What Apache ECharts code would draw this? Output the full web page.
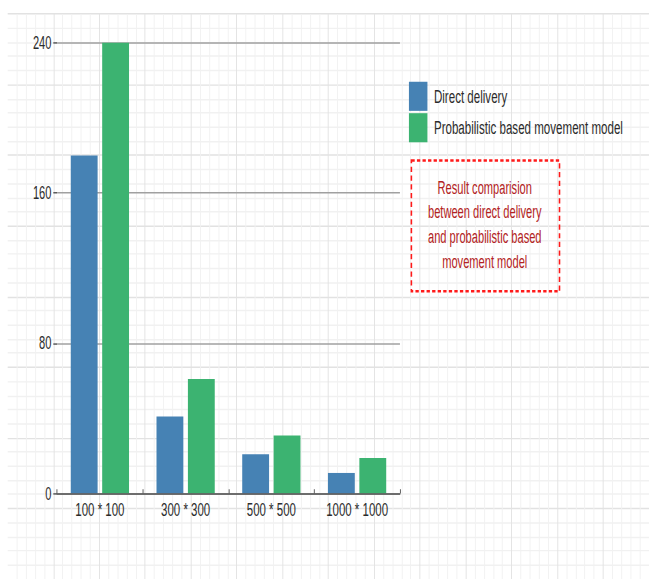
<!DOCTYPE html>
<html>
<head>
<meta charset="utf-8">
<script src="https://cdn.jsdelivr.net/npm/echarts@6/dist/echarts.min.js"></script>
<style>
  html { margin: 0; padding: 0; width: 649px; height: 579px; overflow: hidden; background: #ffffff; }
  body { margin: 0; padding: 0; width: 649px; height: 579px; background: #ffffff; }
  /* The drawing is laid out on a 701x398 board and stretched onto the 649x579 page */
  #board {
    width: 701px;
    height: 398px;
    transform: scale(0.9258, 1.4548);
    transform-origin: 0 0;
  }
</style>
</head>
<body>
<div id="board"></div>
<script>
// Chart data
const categories = ['100 * 100', '300 * 300', '500 * 500', '1000 * 1000'];
const seriesNames = ['Direct delivery', 'Probabilistic based movement model'];
const directDelivery = [180, 41, 21, 11];
const probabilisticModel = [240, 61, 31, 19];
const yMin = 0;
const yMax = 240;
const yStep = 80;
const noteLines = [
  'Result comparision',
  'between direct delivery',
  'and probabilistic based',
  'movement model'
];

const FONT = '"Liberation Sans", Arial, sans-serif';
const chart = echarts.init(document.getElementById('board'), null, { renderer: 'svg' });

chart.setOption({
  backgroundColor: '#ffffff',
  animation: false,
  textStyle: { fontFamily: FONT },
  grid: [
    // main plot
    { left: 61.6, right: 269, top: 29.4, bottom: 58.7 },
    // graph-paper backdrop
    { left: 8.3, top: 9.6, width: 700, height: 400 }
  ],
  xAxis: [
    {
      type: 'category',
      gridIndex: 0,
      data: categories,
      z: 5,
      axisLine: { show: true, lineStyle: { color: '#555555', width: 1 } },
      axisTick: { show: true, inside: true, length: 3, lineStyle: { color: '#555555' } },
      axisLabel: { color: '#2b2b2b', fontSize: 12.4, margin: 5, fontFamily: FONT },
      splitLine: { show: false }
    },
    {
      type: 'value',
      gridIndex: 1,
      min: 0, max: 700, interval: 50,
      silent: true,
      z: -5,
      axisLine: { show: false }, axisTick: { show: false }, axisLabel: { show: false },
      splitLine: { show: true, showMinLine: false, lineStyle: { color: '#e2e2e2', width: 1 } },
      minorTick: { show: false, splitNumber: 5 },
      minorSplitLine: { show: true, lineStyle: { color: '#f1f1f1', width: 1 } }
    }
  ],
  yAxis: [
    {
      type: 'value',
      gridIndex: 0,
      min: yMin, max: yMax, interval: yStep,
      z: 1,
      axisLine: { show: false },
      axisTick: { show: true, length: 4, lineStyle: { color: '#555555' } },
      axisLabel: { color: '#2b2b2b', fontSize: 12, margin: 6, fontFamily: FONT },
      splitLine: { show: true, lineStyle: { color: '#a0a0a0', width: 1 } }
    },
    {
      type: 'value',
      gridIndex: 1,
      inverse: true,
      min: 0, max: 400, interval: 50,
      silent: true,
      z: -5,
      axisLine: { show: false }, axisTick: { show: false }, axisLabel: { show: false },
      splitLine: { show: true, lineStyle: { color: '#e2e2e2', width: 1 } },
      minorTick: { show: false, splitNumber: 5 },
      minorSplitLine: { show: true, lineStyle: { color: '#f1f1f1', width: 1 } }
    }
  ],
  legend: {
    orient: 'vertical',
    left: 441.7,
    top: 56.2,
    padding: 0,
    itemWidth: 20,
    itemHeight: 20,
    itemGap: 1.6,
    icon: 'rect',
    selectedMode: false,
    data: seriesNames,
    textStyle: { color: '#2b2b2b', fontSize: 12.5, fontFamily: FONT, padding: [0, 0, 0, 2] }
  },
  series: [
    {
      name: seriesNames[0],
      type: 'bar',
      xAxisIndex: 0, yAxisIndex: 0,
      data: directDelivery,
      barWidth: 29,
      barGap: '17%',
      z: 3,
      itemStyle: { color: '#4682b4' }
    },
    {
      name: seriesNames[1],
      type: 'bar',
      xAxisIndex: 0, yAxisIndex: 0,
      data: probabilisticModel,
      barWidth: 29,
      barGap: '17%',
      z: 3,
      itemStyle: { color: '#3cb371' }
    },
    {
      // carries the backdrop grid axes
      type: 'line',
      xAxisIndex: 1, yAxisIndex: 1,
      data: [],
      silent: true
    }
  ],
  graphic: [
    {
      type: 'rect',
      left: 443.5,
      top: 109.4,
      z: 10,
      shape: { width: 160, height: 90 },
      style: { fill: 'rgba(255,255,255,0)', stroke: '#ff1a1a', lineWidth: 1.7, lineDash: [3.6, 2.4] },
      silent: true
    },
    {
      type: 'text',
      x: 523.6,
      y: 154.5,
      z: 10,
      style: {
        text: noteLines.join('\n'),
        fill: '#b22222',
        font: '12px ' + FONT,
        align: 'center',
        verticalAlign: 'middle',
        lineHeight: 17
      },
      silent: true
    }
  ]
});
</script>
</body>
</html>
